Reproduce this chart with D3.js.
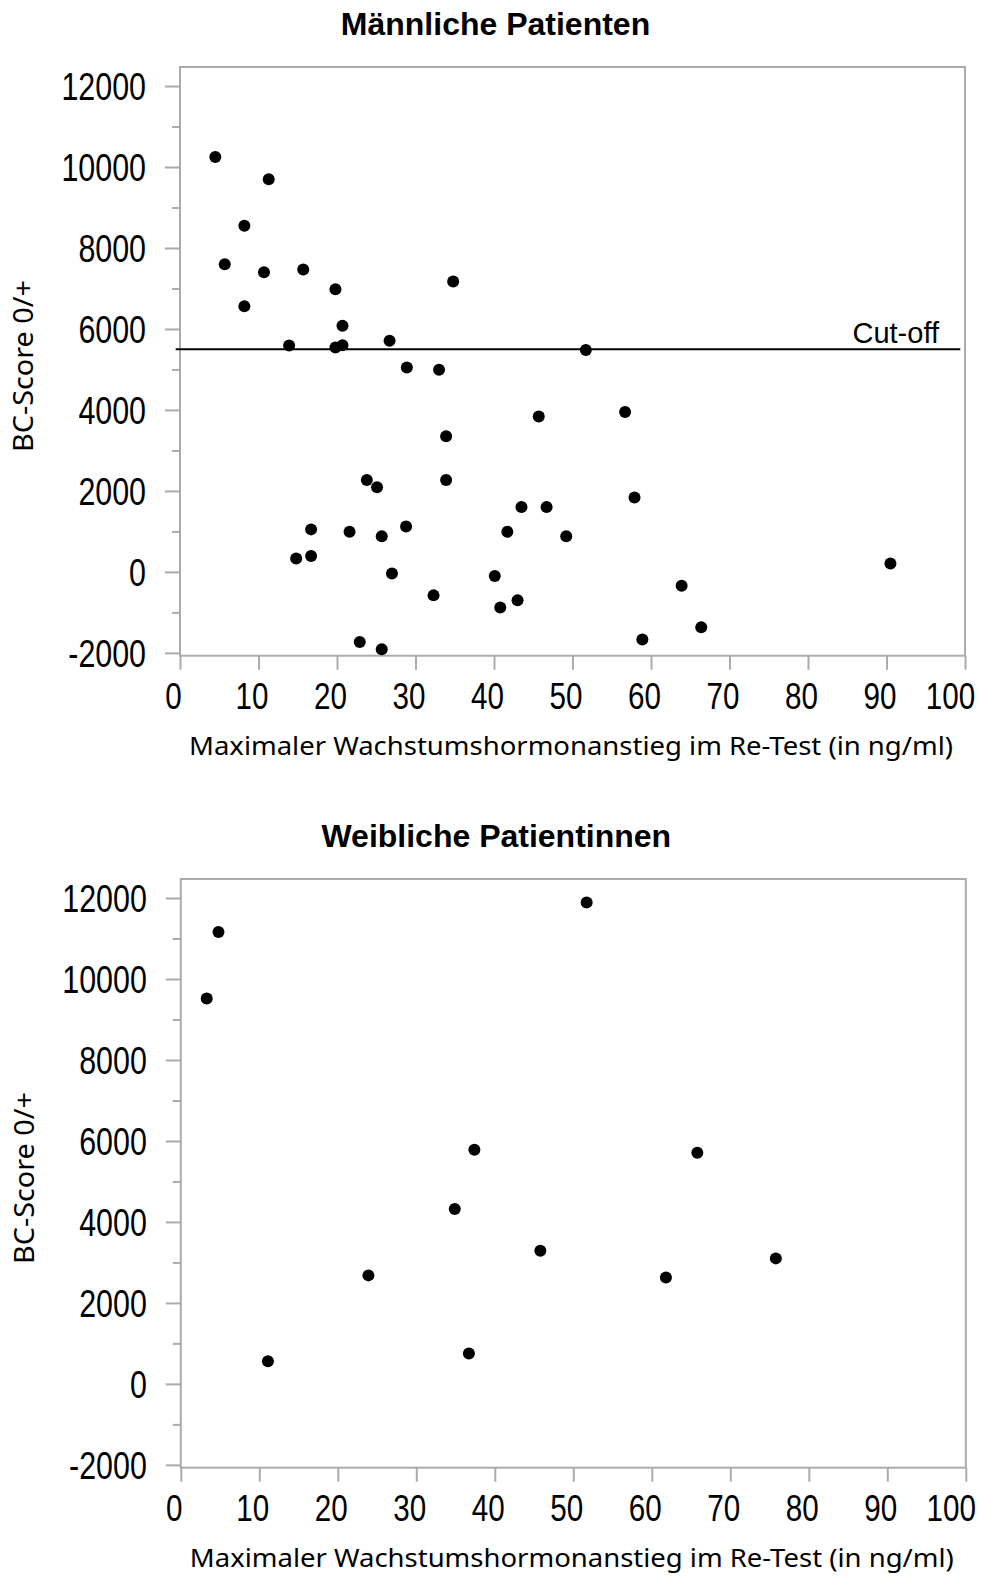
<!DOCTYPE html>
<html>
<head>
<meta charset="utf-8">
<script src="https://cdn.jsdelivr.net/npm/d3@7"></script>
<style>
  html, body { margin: 0; padding: 0; background: #fff; }
  svg { display: block; }
</style>
</head>
<body>
<svg id="chart" width="982" height="1576"></svg>
<script>
// Maximaler GH-Anstieg (ng/ml) und BC-Score, männliche Patienten
const maleGH = [4.5, 11.3, 8.2, 5.7, 10.7, 15.7, 19.8, 34.8, 8.2, 20.7, 13.9, 19.8, 20.7, 26.7, 28.9,
  33.0, 51.7, 33.9, 23.8, 25.1, 33.9, 16.7, 21.6, 28.8, 25.7, 14.8, 16.7, 27.0, 32.3, 22.9,
  25.7, 40.1, 40.8, 45.7, 56.7, 57.9, 43.5, 46.7, 41.7, 49.2, 90.5, 63.9, 43.0, 66.4, 58.9];
const maleBC = [10250, 9700, 8550, 7600, 7400, 7470, 6980, 7170, 6560, 6080, 5590, 5540, 5600, 5710, 5050,
  4990, 5480, 3350, 2270, 2090, 2270, 1050, 990, 1120, 880, 330, 390, -40, -580, -1730,
  -1910, -100, -880, 3840, 3950, 1840, 1600, 1600, 990, 880, 210, -340, -700, -1370, -1670];

// Weibliche Patientinnen
const femaleGH = [4.8, 3.3, 37.4, 51.7, 65.8, 34.9, 23.9, 11.1, 36.7, 45.8, 61.8, 75.8];
const femaleBC = [11160, 9520, 5780, 11890, 5710, 4320, 2680, 560, 750, 3290, 2630, 3100];

const cutoff = 5500;
const xTicks = [0, 10, 20, 30, 40, 50, 60, 70, 80, 90, 100];
const yTicks = [-2000, 0, 2000, 4000, 6000, 8000, 10000, 12000];
const yMinorTicks = [-1000, 1000, 3000, 5000, 7000, 9000, 11000];
const xDomain = [0, 100];
const yDomain = [-2070, 12470];

const xTitle = "Maximaler Wachstumshormonanstieg im Re-Test (in ng/ml)";
const yTitle = "BC-Score 0/+";

const svg = d3.select("#chart");
const axisGrey = "#ababab";
const narrow = 0.8; // horizontal squeeze for the condensed tick-label face
const tickFont = "'Liberation Sans', Arial, sans-serif";

const x = d3.scaleLinear().domain(xDomain).range([180, 965]);
const y = d3.scaleLinear().domain(yDomain).range([655.7, 67]);

function panel(offset, title, gh, bc, withCutoff) {
  const g = svg.append("g").attr("transform", `translate(${offset[0]},${offset[1]})`);

  g.append("text")
    .attr("x", 495.5).attr("y", 35)
    .attr("text-anchor", "middle")
    .style("font-family", tickFont)
    .style("font-weight", "bold")
    .style("font-size", "32px")
    .text(title);

  // frame
  g.append("rect")
    .attr("x", x(xDomain[0])).attr("y", y(yDomain[1]))
    .attr("width", x(xDomain[1]) - x(xDomain[0]))
    .attr("height", y(yDomain[0]) - y(yDomain[1]))
    .attr("fill", "none").attr("stroke", axisGrey).attr("stroke-width", 2);

  // y axis: major ticks with labels
  const yAx = g.append("g").attr("transform", `translate(${x(0)},0)`)
    .call(d3.axisLeft(y).tickValues(yTicks).tickSize(15).tickFormat(d => String(d)));
  yAx.select(".domain").remove();
  yAx.selectAll("line").attr("stroke", axisGrey).attr("stroke-width", 2);
  yAx.selectAll("text")
    .attr("x", -34 / narrow).attr("dy", "0.35em")
    .attr("transform", `scale(${narrow},1)`)
    .attr("fill", "#000")
    .style("font-family", tickFont)
    .style("font-size", "38px");

  // y axis: minor ticks
  const yMin = g.append("g").attr("transform", `translate(${x(0)},0)`)
    .call(d3.axisLeft(y).tickValues(yMinorTicks).tickSize(8).tickFormat(""));
  yMin.select(".domain").remove();
  yMin.selectAll("line").attr("stroke", axisGrey).attr("stroke-width", 2);

  // x axis
  const xAx = g.append("g").attr("transform", `translate(0,${y(yDomain[0])})`)
    .call(d3.axisBottom(x).tickValues(xTicks).tickSize(14).tickFormat(d => String(d)));
  xAx.select(".domain").remove();
  xAx.selectAll("line").attr("stroke", axisGrey).attr("stroke-width", 2);
  xAx.selectAll("text")
    .attr("y", 53).attr("dy", 0)
    .attr("x", d => (d === 100 ? -15 : -7) / narrow)
    .attr("transform", `scale(${narrow},1)`)
    .attr("fill", "#000")
    .style("font-family", tickFont)
    .style("font-size", "37px");

  // axis titles
  g.append("text")
    .attr("x", 571).attr("y", 755)
    .attr("text-anchor", "middle")
    .attr("textLength", 764).attr("lengthAdjust", "spacingAndGlyphs")
    .style("font-family", "'Noto Sans', 'Open Sans', sans-serif")
    .style("font-size", "25.5px")
    .text(xTitle);

  g.append("text")
    .attr("transform", "translate(33,366) rotate(-90)")
    .attr("text-anchor", "middle")
    .attr("textLength", 172).attr("lengthAdjust", "spacingAndGlyphs")
    .style("font-family", "'Noto Sans', 'Open Sans', sans-serif")
    .style("font-size", "27px")
    .text(yTitle);

  if (withCutoff) {
    g.append("line")
      .attr("x1", x(-0.55)).attr("x2", x(99.4))
      .attr("y1", y(cutoff)).attr("y2", y(cutoff))
      .attr("stroke", "#000").attr("stroke-width", 2);
    g.append("text")
      .attr("x", 939).attr("y", 342.5)
      .attr("text-anchor", "end")
      .style("font-family", tickFont)
      .style("font-size", "29px")
      .text("Cut-off");
  }

  // patients
  g.append("g").selectAll("circle")
    .data(d3.range(gh.length))
    .join("circle")
    .attr("cx", i => x(gh[i]))
    .attr("cy", i => y(bc[i]))
    .attr("r", 6)
    .attr("fill", "#000");
}

panel([0, 0], "Männliche Patienten", maleGH, maleBC, true);
panel([0.8, 812], "Weibliche Patientinnen", femaleGH, femaleBC, false);
</script>
</body>
</html>
